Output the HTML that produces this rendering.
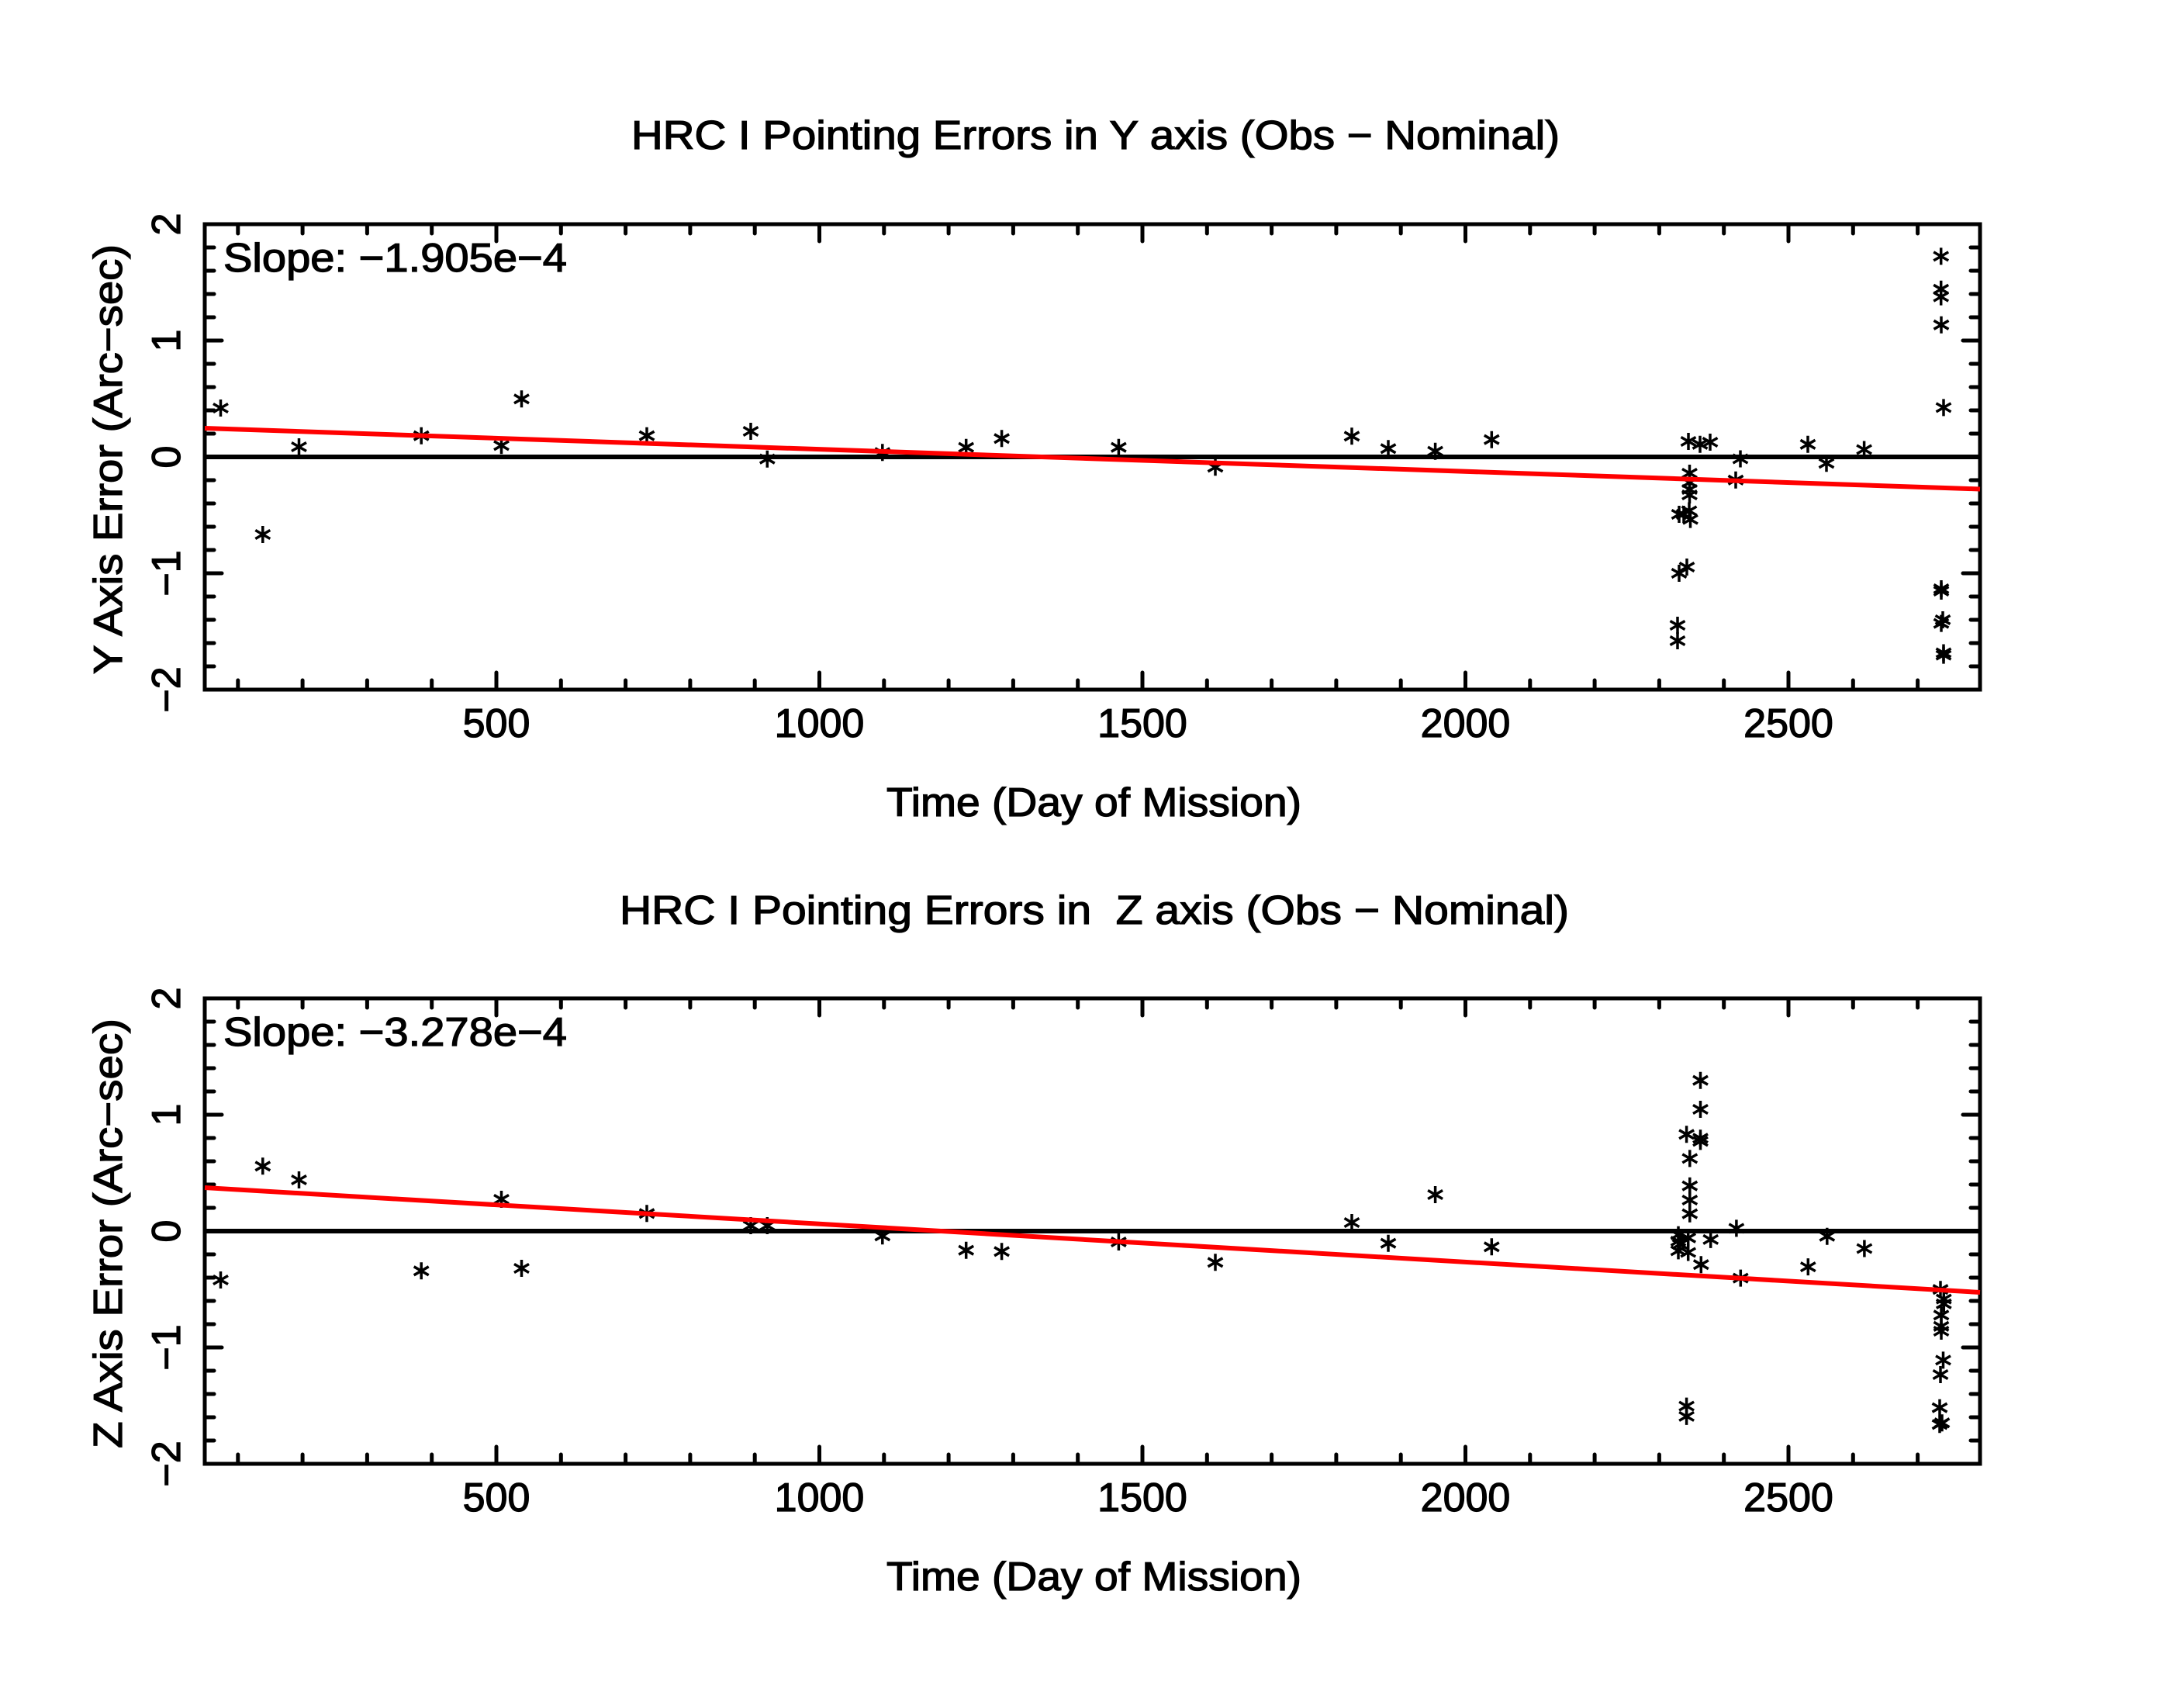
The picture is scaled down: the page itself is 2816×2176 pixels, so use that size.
<!DOCTYPE html>
<html>
<head>
<meta charset="utf-8">
<style>
html,body{margin:0;padding:0;background:#fff}
svg{display:block}
text{font-family:"Liberation Sans",Arial,sans-serif;font-size:52px;fill:#000;stroke:#000;stroke-width:1.3px}
</style>
</head>
<body>
<svg width="2816" height="2176" viewBox="0 0 2816 2176" xmlns="http://www.w3.org/2000/svg">
<rect x="0" y="0" width="2816" height="2176" fill="#fff"/>
<defs>
<path id="m" d="M0 -11V11M-9.5 -5.5L9.5 5.5M-9.5 5.5L9.5 -5.5" stroke="#000" stroke-width="3.5" fill="none"/>
<g id="axes" stroke="#000" stroke-width="5" fill="none" stroke-linecap="round">
<rect x="264" y="289" width="2289" height="600" stroke-linecap="butt"/>
<path d="M306.8 289v12M306.8 889v-12M390.1 289v12M390.1 889v-12M473.4 289v12M473.4 889v-12M556.7 289v12M556.7 889v-12M723.3 289v12M723.3 889v-12M806.6 289v12M806.6 889v-12M889.9 289v12M889.9 889v-12M973.2 289v12M973.2 889v-12M1139.8 289v12M1139.8 889v-12M1223.1 289v12M1223.1 889v-12M1306.4 289v12M1306.4 889v-12M1389.7 289v12M1389.7 889v-12M1556.3 289v12M1556.3 889v-12M1639.6 289v12M1639.6 889v-12M1722.9 289v12M1722.9 889v-12M1806.2 289v12M1806.2 889v-12M1972.8 289v12M1972.8 889v-12M2056.1 289v12M2056.1 889v-12M2139.4 289v12M2139.4 889v-12M2222.7 289v12M2222.7 889v-12M2389.3 289v12M2389.3 889v-12M2472.6 289v12M2472.6 889v-12M640 289v22M640 889v-22M1056.5 289v22M1056.5 889v-22M1473 289v22M1473 889v-22M1889.5 289v22M1889.5 889v-22M2306 289v22M2306 889v-22M264 319h12M2553 319h-12M264 349h12M2553 349h-12M264 379h12M2553 379h-12M264 409h12M2553 409h-12M264 469h12M2553 469h-12M264 499h12M2553 499h-12M264 529h12M2553 529h-12M264 559h12M2553 559h-12M264 619h12M2553 619h-12M264 649h12M2553 649h-12M264 679h12M2553 679h-12M264 709h12M2553 709h-12M264 769h12M2553 769h-12M264 799h12M2553 799h-12M264 829h12M2553 829h-12M264 859h12M2553 859h-12M264 439h22M2553 439h-22M264 589h22M2553 589h-22M264 739h22M2553 739h-22"/>
</g>
<g id="labels">
<text x="640" y="950" text-anchor="middle">500</text>
<text x="1056.5" y="950" text-anchor="middle">1000</text>
<text x="1473" y="950" text-anchor="middle">1500</text>
<text x="1889.5" y="950" text-anchor="middle">2000</text>
<text x="2306" y="950" text-anchor="middle">2500</text>
<text transform="translate(232,289) rotate(-90)" text-anchor="middle">2</text>
<text transform="translate(232,439) rotate(-90)" text-anchor="middle">1</text>
<text transform="translate(232,589) rotate(-90)" text-anchor="middle">0</text>
<text transform="translate(232,739) rotate(-90)" text-anchor="middle">−1</text>
<text transform="translate(232,889) rotate(-90)" text-anchor="middle">−2</text>
<text x="1143" y="1052" textLength="535" lengthAdjust="spacingAndGlyphs">Time (Day of Mission)</text>
</g>
</defs>

<use href="#axes"/>
<use href="#labels"/>
<text x="814" y="192" textLength="1197" lengthAdjust="spacingAndGlyphs">HRC I Pointing Errors in Y axis (Obs − Nominal)</text>
<text x="288" y="350" textLength="443" lengthAdjust="spacingAndGlyphs">Slope: −1.905e−4</text>
<text transform="translate(157,869) rotate(-90)" textLength="554" lengthAdjust="spacingAndGlyphs">Y Axis Error (Arc−sec)</text>

<g>
<use href="#m" x="284.5" y="526"/>
<use href="#m" x="338.8" y="689"/>
<use href="#m" x="385.5" y="576"/>
<use href="#m" x="543.2" y="561.7"/>
<use href="#m" x="646.5" y="574.3"/>
<use href="#m" x="672.5" y="514.3"/>
<use href="#m" x="834" y="561.7"/>
<use href="#m" x="968" y="556"/>
<use href="#m" x="989.3" y="591.7"/>
<use href="#m" x="1137.8" y="583.3"/>
<use href="#m" x="1245.7" y="576.7"/>
<use href="#m" x="1291.6" y="565.3"/>
<use href="#m" x="1442.4" y="576.7"/>
<use href="#m" x="1567" y="602.3"/>
<use href="#m" x="1743" y="562.3"/>
<use href="#m" x="1790" y="578.3"/>
<use href="#m" x="1850.6" y="581.7"/>
<use href="#m" x="1923.3" y="566.7"/>
<use href="#m" x="2177" y="569"/>
<use href="#m" x="2192" y="572.8"/>
<use href="#m" x="2205" y="570"/>
<use href="#m" x="2331" y="572.8"/>
<use href="#m" x="2403.6" y="579.5"/>
<use href="#m" x="2244" y="591.5"/>
<use href="#m" x="2355" y="597.3"/>
<use href="#m" x="2238" y="618.8"/>
<use href="#m" x="2178.5" y="610"/>
<use href="#m" x="2178.5" y="622"/>
<use href="#m" x="2178.5" y="631"/>
<use href="#m" x="2178.5" y="638"/>
<use href="#m" x="2165" y="663"/>
<use href="#m" x="2171" y="663"/>
<use href="#m" x="2178" y="658.5"/>
<use href="#m" x="2179.5" y="669.6"/>
<use href="#m" x="2175" y="731"/>
<use href="#m" x="2165" y="739"/>
<use href="#m" x="2163" y="806"/>
<use href="#m" x="2163" y="826"/>
<use href="#m" x="2502.7" y="330.4"/>
<use href="#m" x="2502.7" y="372.8"/>
<use href="#m" x="2502.7" y="382.6"/>
<use href="#m" x="2503" y="418.8"/>
<use href="#m" x="2506" y="525.4"/>
<use href="#m" x="2503" y="759"/>
<use href="#m" x="2503" y="762"/>
<use href="#m" x="2505" y="799"/>
<use href="#m" x="2503" y="803.6"/>
<use href="#m" x="2506" y="841.5"/>
<use href="#m" x="2506" y="844.6"/>
</g>
<line x1="264" y1="589" x2="2553" y2="589" stroke="#000" stroke-width="6"/>
<line x1="264" y1="552" x2="2553" y2="630.5" stroke="#ff0000" stroke-width="6"/>

<use href="#axes" y="998"/>
<use href="#labels" y="998"/>
<text x="799" y="1191" textLength="1224" lengthAdjust="spacingAndGlyphs" style="white-space:pre" xml:space="preserve">HRC I Pointing Errors in  Z axis (Obs − Nominal)</text>
<text x="288" y="1348" textLength="443" lengthAdjust="spacingAndGlyphs">Slope: −3.278e−4</text>
<text transform="translate(157,1867) rotate(-90)" textLength="554" lengthAdjust="spacingAndGlyphs">Z Axis Error (Arc−sec)</text>

<g>
<use href="#m" x="284.5" y="1650"/>
<use href="#m" x="338.8" y="1503.3"/>
<use href="#m" x="385.5" y="1521"/>
<use href="#m" x="543.2" y="1638.3"/>
<use href="#m" x="646.5" y="1546"/>
<use href="#m" x="672.5" y="1635"/>
<use href="#m" x="834" y="1564.3"/>
<use href="#m" x="968" y="1580"/>
<use href="#m" x="989.3" y="1580"/>
<use href="#m" x="1137.8" y="1593.3"/>
<use href="#m" x="1245.7" y="1611.7"/>
<use href="#m" x="1291.6" y="1613.3"/>
<use href="#m" x="1442.4" y="1601"/>
<use href="#m" x="1567" y="1627.3"/>
<use href="#m" x="1743" y="1576"/>
<use href="#m" x="1790" y="1602.7"/>
<use href="#m" x="1850.6" y="1540"/>
<use href="#m" x="1923.3" y="1607.3"/>
<use href="#m" x="2192.5" y="1392.7"/>
<use href="#m" x="2192.5" y="1430"/>
<use href="#m" x="2174.6" y="1462.3"/>
<use href="#m" x="2192.5" y="1467.3"/>
<use href="#m" x="2192.5" y="1471.4"/>
<use href="#m" x="2178.8" y="1493.4"/>
<use href="#m" x="2178.8" y="1528.7"/>
<use href="#m" x="2178.8" y="1547"/>
<use href="#m" x="2178.8" y="1564.7"/>
<use href="#m" x="2238.9" y="1583.4"/>
<use href="#m" x="2205.7" y="1597.9"/>
<use href="#m" x="2164" y="1591.7"/>
<use href="#m" x="2164" y="1600"/>
<use href="#m" x="2166" y="1604"/>
<use href="#m" x="2176.7" y="1595.8"/>
<use href="#m" x="2164" y="1612.4"/>
<use href="#m" x="2176.7" y="1614.5"/>
<use href="#m" x="2193.3" y="1630.2"/>
<use href="#m" x="2244.3" y="1647.6"/>
<use href="#m" x="2355.8" y="1593.7"/>
<use href="#m" x="2403.9" y="1609.5"/>
<use href="#m" x="2331.3" y="1633.1"/>
<use href="#m" x="2174.6" y="1812.6"/>
<use href="#m" x="2174.6" y="1825.9"/>
<use href="#m" x="2502" y="1662.2"/>
<use href="#m" x="2506.3" y="1674.6"/>
<use href="#m" x="2506.3" y="1680.8"/>
<use href="#m" x="2503" y="1695.3"/>
<use href="#m" x="2503" y="1709.8"/>
<use href="#m" x="2503" y="1716"/>
<use href="#m" x="2505.5" y="1753.4"/>
<use href="#m" x="2502" y="1772"/>
<use href="#m" x="2501" y="1814.7"/>
<use href="#m" x="2504" y="1834.2"/>
<use href="#m" x="2501" y="1836.3"/>
</g>
<line x1="264" y1="1587" x2="2553" y2="1587" stroke="#000" stroke-width="6"/>
<line x1="264" y1="1531" x2="2553" y2="1666" stroke="#ff0000" stroke-width="6"/>
</svg>
</body>
</html>
